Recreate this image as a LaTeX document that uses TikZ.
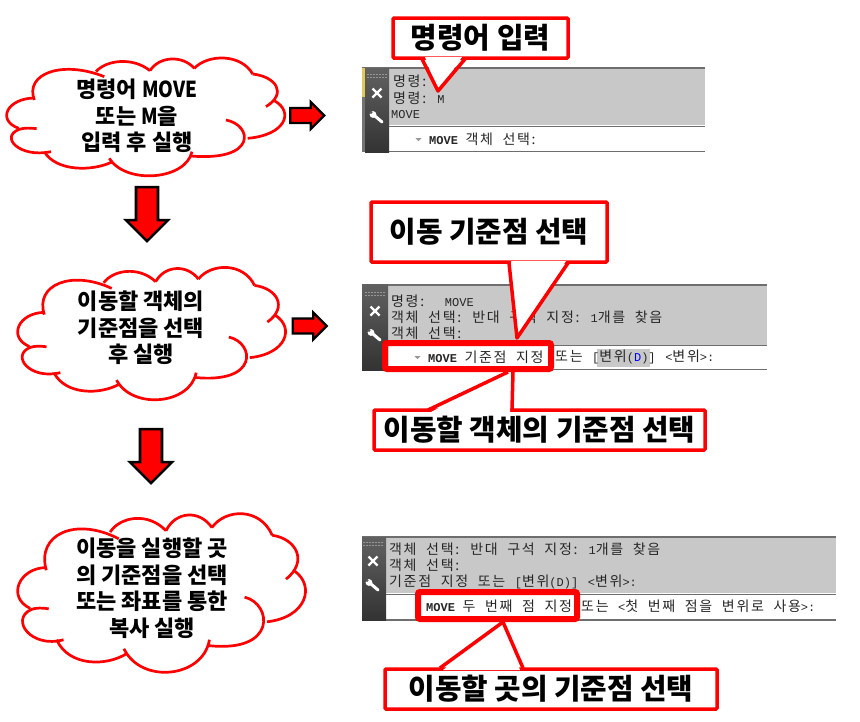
\documentclass[tikz,border=0pt]{standalone}
\usepackage{fontspec}
\usepackage{xcolor}
\usepackage{tikz}
\usetikzlibrary{shapes.arrows}
\setmainfont{Noto Sans CJK KR}[BoldFont={Noto Sans CJK KR Black}]
\newfontfamily\panelfont[LetterSpace=11.9,WordSpace=2.0]{Noto Sans CJK KR}
\newfontfamily\latfont{Liberation Mono}
\definecolor{callred}{RGB}{255,0,0}
\definecolor{panelgray}{RGB}{200,200,200}
\definecolor{bordergray}{RGB}{110,110,110}
\definecolor{griptone}{RGB}{150,150,150}
\definecolor{stripyellow}{RGB}{225,200,90}
\newcommand{\lat}[1]{{\latfont\fontsize{12}{12}\selectfont #1}}
\newcommand{\latb}[1]{{\latfont\bfseries\fontsize{12}{12}\selectfont #1}}
\newcommand{\narrowlat}[1]{\scalebox{0.86}[1]{#1}}
% one cloud, in the units of the first one
\newcommand{\cloudoutline}{
  \draw[cloudline] (105,210) .. controls (75,130) and (190,90) .. (315,140);
  \draw[cloudline] (290,125) .. controls (320,90) and (400,80) .. (452,122);
  \draw[cloudline] (452,122) .. controls (480,78) and (550,75) .. (585,115);
  \draw[cloudline] (585,115) .. controls (625,72) and (725,70) .. (760,132);
  \draw[cloudline] (760,132) .. controls (830,140) and (865,190) .. (800,230);
  \draw[cloudline] (825,212) .. controls (885,245) and (860,315) .. (745,325);
  \draw[cloudline] (680,270) .. controls (760,285) and (775,395) .. (575,378);
  \draw[cloudline] (578,365) .. controls (560,450) and (380,465) .. (330,385);
  \draw[cloudline] (340,395) .. controls (280,425) and (170,425) .. (135,365);
  \draw[cloudline] (155,365) .. controls (60,385) and (0,320) .. (60,298) .. controls (75,293) and (95,294) .. (112,296);
  \draw[cloudline] (58,295) .. controls (-10,270) and (25,205) .. (105,204);
}
% grip, cross and wrench of a command panel
\newcommand{\paneltools}[2]{
  \begin{scope}[shift={(#1,#2)}]
    \foreach \gx in {-9,-6,...,9} {
      \fill[griptone] (\gx-0.6,-2.2) rectangle (\gx+0.6,-1);
      \fill[griptone] (\gx-0.6,1) rectangle (\gx+0.6,2.2);
    }
    \draw[white, line width=2.4pt] (-4.5,12.5) -- (4.5,21.5) (-4.5,21.5) -- (4.5,12.5);
    \draw[white, line width=3pt, line cap=round] (-2,40) -- (5,46);
    \fill[white] (-4,38.5) circle (3.4);
    \fill[black!65] (-6,36.5) circle (1.7);
  \end{scope}
}
\begin{document}
\begin{tikzpicture}[
    x=1pt, y=-1pt,
    cloudline/.style={draw=callred, line width=2.7pt},
    cloudtext/.style={align=center, inner sep=0pt, font=\fontsize{22}{26.5}\selectfont\bfseries},
    callbox/.style={draw=callred, fill=white, line width=3.5pt, rounded corners=1pt, inner sep=0pt},
    calltext/.style={inner sep=0pt, font=\fontsize{28.8}{32}\selectfont\bfseries},
    tailfill/.style={fill=white},
    tailline/.style={draw=callred, line width=3.5pt, line join=round},
    markbox/.style={draw=callred, line width=6pt, rounded corners=2pt, inner sep=0pt},
    downblock/.style={draw=black, fill=callred, line width=2.6pt, single arrow, shape border rotate=270,
                      minimum height=54pt, single arrow head extend=10pt,
                      single arrow head indent=0pt, inner xsep=9.7pt, inner ysep=0pt},
    rightblock/.style={draw=black, fill=callred, line width=2.4pt, single arrow,
                       minimum height=34pt, single arrow head extend=6pt,
                       single arrow head indent=0pt, inner xsep=0pt, inner ysep=6.3pt},
    paneltext/.style={anchor=west, inner sep=0pt, text=black!85, font=\panelfont\fontsize{14}{14}\selectfont},
  ]
  \useasboundingbox (0,0) rectangle (860,721);

  % clouds
  \begin{scope}[shift={(-0.67,30)}, xscale=0.3333, yscale=0.3333]
    \cloudoutline
  \end{scope}
  \begin{scope}[shift={(10.6,236)}, xscale=0.3210, yscale=0.3743]
    \cloudoutline
  \end{scope}
  \begin{scope}[shift={(10.1,476)}, xscale=0.3449, yscale=0.4486]
    \cloudoutline
  \end{scope}
  \node[cloudtext] (cloudA) at (137,116) {명령어 \narrowlat{MOVE}\\또는 \narrowlat{M}을\\입력 후 실행};
  \node[cloudtext] (cloudB) at (141,328) {이동할 객체의\\기준점을 선택\\후 실행};
  \node[cloudtext] (cloudC) at (152,588) {이동을 실행할 곳\\의 기준점을 선택\\또는 좌표를 통한\\복사 실행};

  % block arrows
  \node[downblock] (downA) at (147,208.6) {};
  \node[downblock] (downB) at (151,450.6) {};
  \node[rightblock] (rightA) at (303.5,115.5) {};
  \node[rightblock] (rightB) at (306,326) {};

  % first panel
  \fill[panelgray] (389,68) rectangle (705,125);
  \draw[bordergray, line width=2pt] (362,68) -- (705,68);
  \draw[bordergray, line width=1pt] (389,126) -- (705,126);
  \draw[bordergray, line width=1.5pt] (362,151.5) -- (705,151.5);
  \shade[top color=black!62, bottom color=black!80] (365,68) rectangle (389,152);
  \fill[stripyellow] (362,68) rectangle (364.5,97);
  \fill[black!55] (362,97) rectangle (365,152);
  \paneltools{377}{76}
  \node[paneltext] (lineA) at (393,81) {명령:};
  \node[paneltext] (lineB) at (393,98) {명령: \lat{M}};
  \node[paneltext] (lineC) at (391,115) {\lat{MOVE}};
  \fill[griptone] (415.5,138) -- (421.5,138) -- (418.5,141) -- cycle;
  \node[paneltext] (lineD) at (429,139) {\latb{MOVE}\hspace{-2pt} 객체 선택:};

  % second panel
  \fill[panelgray] (388,285) rectangle (767,345);
  \draw[bordergray, line width=2pt] (362,285) -- (767,285);
  \draw[bordergray, line width=1pt] (388,345.5) -- (767,345.5);
  \draw[bordergray, line width=1.2pt] (362,369.7) -- (767,369.7);
  \shade[top color=black!62, bottom color=black!80] (362,284) rectangle (388,370);
  \paneltools{375}{294}
  \node[paneltext] (lineE) at (391,301) {명령: \ \lat{MOVE}};
  \node[paneltext] (lineF) at (391,317) {객체 선택: 반대 구석 지정: \lat{1}개를 찾음};
  \node[paneltext] (lineG) at (391,333) {객체 선택:};
  \fill[griptone] (414.5,356) -- (420.5,356) -- (417.5,359) -- cycle;
  \fill[panelgray] (597,349) rectangle (650,367);
  \node[paneltext] (lineH) at (428,357) {\latb{MOVE}\hspace{-2pt} 기준점 지정};
  \node[paneltext] (lineI) at (555,357) {또는 \lat{[}변위\lat{(\textcolor{blue}{D})]} \lat{<}변위\lat{>:}};

  % third panel
  \fill[panelgray] (386,538) rectangle (836,593);
  \draw[bordergray, line width=2pt] (362,537) -- (836,537);
  \draw[bordergray, line width=1pt] (386,594) -- (836,594);
  \draw[bordergray, line width=2pt] (362,620) -- (836,620);
  \shade[top color=black!62, bottom color=black!80] (362,537) rectangle (386,620);
  \paneltools{373}{544}
  \node[paneltext] (lineJ) at (389,549) {객체 선택: 반대 구석 지정: \lat{1}개를 찾음};
  \node[paneltext] (lineK) at (389,565) {객체 선택:};
  \node[paneltext] (lineL) at (389,582) {기준점 지정 또는 \lat{[}변위\lat{(D)]} \lat{<}변위\lat{>:}};
  \node[paneltext] (lineM) at (426,606) {\latb{MOVE}\hspace{-2pt} 두 번째 점 지정};
  \node[paneltext] (lineN) at (581,606) {또는 \lat{<}첫 번째 점을 변위로 사용\lat{>:}};

  % callouts
  \coordinate (tipA) at (438,91);
  \coordinate (tipB) at (517,338);
  \coordinate (tipC) at (508,372);
  \coordinate (tipD) at (503,622);
  \node[callbox, minimum width=175pt, minimum height=40pt] (callA) at (480.5,38) {};
  \node[callbox, minimum width=236pt, minimum height=60pt] (callB) at (489,232) {};
  \node[callbox, minimum width=331pt, minimum height=40pt] (callC) at (539.5,430) {};
  \node[callbox, minimum width=332pt, minimum height=40pt] (callD) at (551,689) {};
  \fill[tailfill] (425,57) -- (tipA) -- (462,57) -- cycle;
  \draw[tailline] (422,59) -- (tipA) -- (465,59);
  \fill[tailfill] (511,261) -- (tipB) -- (566,261) -- cycle;
  \draw[tailline] (509,263) -- (tipB) -- (568,263);
  \fill[tailfill] (431,412) -- (tipC) -- (513,372) -- (510,412) -- cycle;
  \draw[tailline] (428,410) -- (tipC) (513,372) -- (512,410);
  \fill[tailfill] (443,670) -- (tipD) -- (520,670) -- cycle;
  \draw[tailline] (440,668) -- (tipD) -- (523,668);
  \node[calltext] (textA) at (callA) {명령어 입력};
  \node[calltext] (textB) at (callB) {이동 기준점 선택};
  \node[calltext] (textC) at (callC) {이동할 객체의 기준점 선택};
  \node[calltext] (textD) at (callD) {이동할 곳의 기준점 선택};

  % marks on the input lines
  \node[markbox, minimum width=166pt, minimum height=26pt] (markA) at (468,356) {};
  \node[markbox, minimum width=159pt, minimum height=27pt] (markB) at (497.5,605.5) {};
\end{tikzpicture}
\end{document}
